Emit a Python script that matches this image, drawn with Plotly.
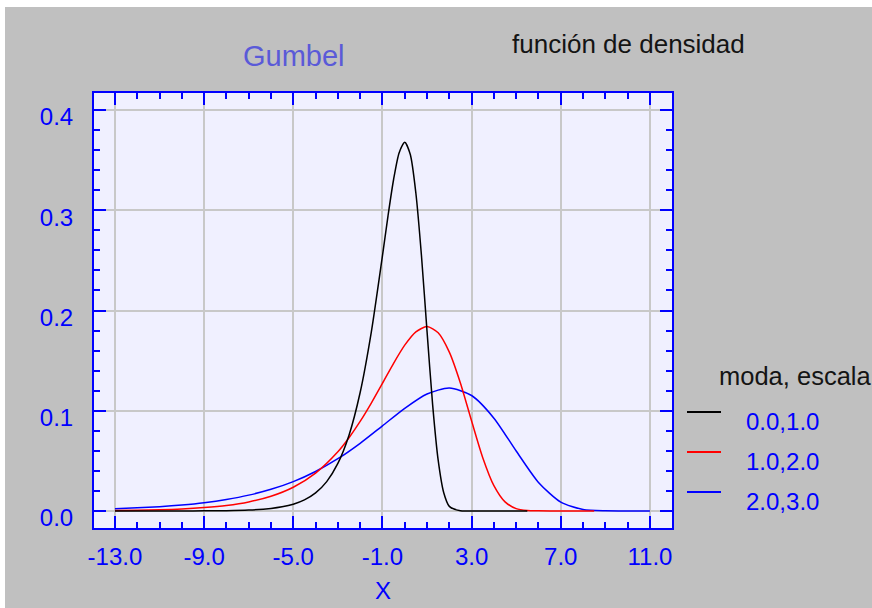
import plotly.graph_objects as go

# Gumbel density curves: (mode, scale) = (0,1), (1,2), (2,3)
black_x = [-13, -12, -11, -10, -9, -8, -7, -6, -5.5, -5, -4.5, -4, -3.5, -3, -2.5, -2,
           -1.5, -1, -0.75, -0.5, -0.25, 0, 0.25, 0.5, 0.75, 1, 1.25, 1.5, 1.75, 2,
           2.5, 3, 4, 5, 5.5]
black_y = [0.0000, 0.0000, 0.0000, 0.0000, 0.0001, 0.0003, 0.0009, 0.0025, 0.0041, 0.0067,
           0.0110, 0.0180, 0.0293, 0.0474, 0.0756, 0.1182, 0.1785, 0.2546, 0.2945, 0.3307,
           0.3574, 0.3679, 0.3556, 0.3170, 0.2549, 0.1794, 0.1064, 0.0507, 0.0182, 0.0046,
           0.0001, 0.0, 0.0, 0.0, 0.0]

red_x = [-13, -12, -11, -10, -9, -8, -7, -6, -5, -4, -3, -2.5, -2, -1.5, -1, -0.5, 0,
         0.5, 1, 1.5, 2, 2.5, 3, 3.5, 4, 4.5, 5, 5.5, 6, 7, 8, 8.5]
red_y = [0.0005, 0.0008, 0.0012, 0.0020, 0.0034, 0.0055, 0.0090, 0.0147, 0.0237, 0.0378,
         0.0591, 0.0731, 0.0893, 0.1076, 0.1273, 0.1473, 0.1654, 0.1787, 0.1840, 0.1778,
         0.1585, 0.1275, 0.0897, 0.0532, 0.0253, 0.0091, 0.0023, 0.0004, 0.0001, 0.0,
         0.0, 0.0]

blue_x = [-13, -12, -11, -10, -9, -8, -7, -6, -5, -4, -3, -2, -1, 0, 1, 2, 3, 4, 5, 6,
          7, 8, 9, 10, 11]
blue_y = [0.0022, 0.0031, 0.0043, 0.0060, 0.0083, 0.0115, 0.0158, 0.0216, 0.0293, 0.0394,
          0.0521, 0.0675, 0.0849, 0.1024, 0.1167, 0.1226, 0.1152, 0.0926, 0.0598, 0.0285,
          0.0089, 0.0015, 0.0001, 0.0, 0.0]

x_tick_vals = [-13, -9, -5, -1, 3, 7, 11]
x_tick_text = ["-13.0", "-9.0", "-5.0", "-1.0", "3.0", "7.0", "11.0"]
y_tick_vals = [0.0, 0.1, 0.2, 0.3, 0.4]
y_tick_text = ["0.0", "0.1", "0.2", "0.3", "0.4"]

legend_title = "moda, escala"
series_names = ["0.0,1.0", "1.0,2.0", "2.0,3.0"]
series_colors = ["#000000", "#ff0000", "#0000ff"]

W, H = 872, 608
ML, MR, MT, MB = 94, 200, 93, 80
PW, PH = W - ML - MR, H - MT - MB


def px(x):
    return (x - ML) / PW


def py(y):
    return (H - MB - y) / PH


FONT = "Liberation Sans, Arial, sans-serif"
AXIS_BLUE = "#0000ff"

fig = go.Figure()
for xs, ys, col, name in [(blue_x, blue_y, series_colors[2], series_names[2]),
                          (red_x, red_y, series_colors[1], series_names[1]),
                          (black_x, black_y, series_colors[0], series_names[0])]:
    fig.add_trace(go.Scatter(x=xs, y=ys, mode="lines", name=name,
                             line=dict(color=col, width=1.5, shape="spline", smoothing=0.7),
                             showlegend=False, hoverinfo="skip"))

axis_common = dict(
    showline=True, linecolor=AXIS_BLUE, linewidth=2, mirror="ticks",
    ticks="inside", ticklen=12, tickwidth=2, tickcolor=AXIS_BLUE,
    showgrid=True, gridcolor="#c8c8c8", gridwidth=2, zeroline=False,
    tickfont=dict(family=FONT, size=24, color=AXIS_BLUE),
    tickmode="array",
)

fig.update_xaxes(range=[-13.94, 11.99], tickvals=x_tick_vals, ticktext=x_tick_text,
                 minor=dict(ticks="inside", ticklen=6, tickwidth=2, tickcolor=AXIS_BLUE,
                            dtick=1, tick0=-13, showgrid=False),
                 ticklabelstandoff=6, **axis_common)
fig.update_yaxes(range=[-0.017, 0.417], tickvals=y_tick_vals, ticktext=y_tick_text,
                 minor=dict(ticks="inside", ticklen=6, tickwidth=2, tickcolor=AXIS_BLUE,
                            dtick=0.02, tick0=0, showgrid=False),
                 ticklabelstandoff=14, ticklabelshift=7, **axis_common)

annotations = [
    dict(text="Gumbel", x=px(294), y=py(56), xanchor="center", yanchor="middle",
         font=dict(family=FONT, size=29, color="#5a5ad8")),
    dict(text="función de densidad", x=px(510), y=py(44), xanchor="left", yanchor="middle",
         font=dict(family=FONT, size=26, color="#141414")),
    dict(text="X", x=px(383), y=py(590), xanchor="center", yanchor="middle",
         font=dict(family=FONT, size=24, color=AXIS_BLUE)),
    dict(text=legend_title, x=px(717), y=py(376), xanchor="left", yanchor="middle",
         font=dict(family=FONT, size=25.5, color="#141414")),
]
shapes = [
    # white strips along the top and left edges
    dict(type="rect", xref="paper", yref="paper", x0=px(0), x1=px(W), y0=py(0), y1=py(7),
         fillcolor="#ffffff", line=dict(width=0), layer="above"),
    dict(type="rect", xref="paper", yref="paper", x0=px(0), x1=px(5), y0=py(0), y1=py(H),
         fillcolor="#ffffff", line=dict(width=0), layer="above"),
]
for i, (name, col) in enumerate(zip(series_names, series_colors)):
    yl = 412 + 40 * i
    shapes.append(dict(type="line", xref="paper", yref="paper", x0=px(687), x1=px(721),
                       y0=py(yl), y1=py(yl), line=dict(color=col, width=2)))
    annotations.append(dict(text=name, x=px(744), y=py(yl + 9), xanchor="left",
                            yanchor="middle",
                            font=dict(family=FONT, size=24, color=AXIS_BLUE)))

for a in annotations:
    a.update(xref="paper", yref="paper", showarrow=False)

fig.update_layout(
    width=W, height=H,
    margin=dict(l=ML, r=MR, t=MT, b=MB),
    paper_bgcolor="#c0c0c0", plot_bgcolor="#f0f0ff",
    annotations=annotations, shapes=shapes,
    showlegend=False,
)

fig.write_html("out.html")
